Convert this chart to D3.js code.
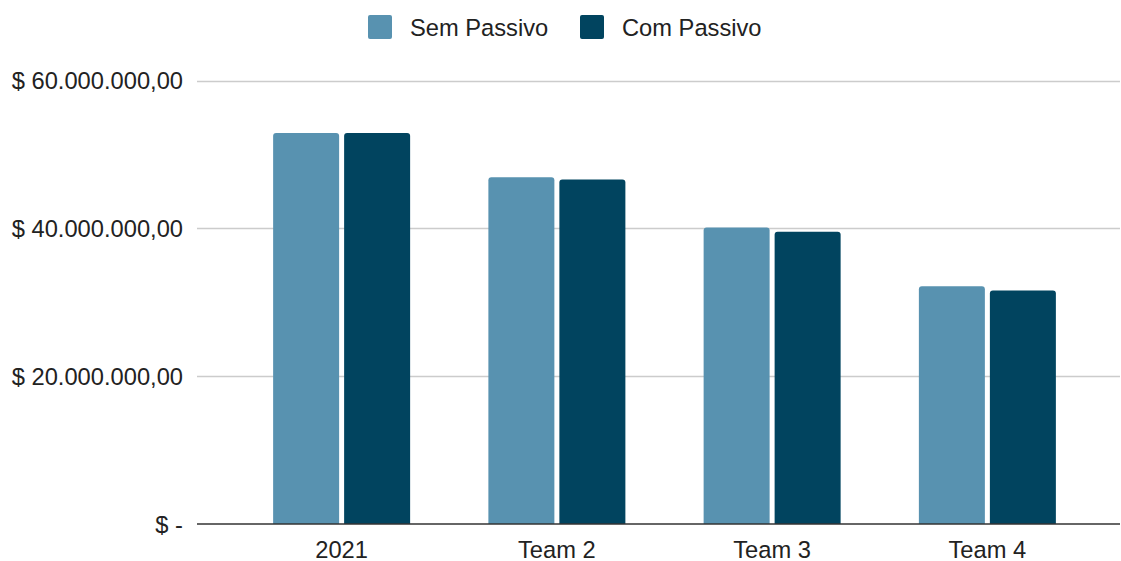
<!DOCTYPE html>
<html>
<head>
<meta charset="utf-8">
<script src="https://cdn.jsdelivr.net/npm/d3@7"></script>
<style>
  html, body { margin: 0; padding: 0; background: #fff; }
  svg { display: block; font-family: "Liberation Sans", Arial, sans-serif; }
</style>
</head>
<body>
<svg id="chart" width="1121" height="561"></svg>
<script>
const categories = ["2021", "Team 2", "Team 3", "Team 4"];
const seriesNames = ["Sem Passivo", "Com Passivo"];
const semPassivo = [52900000, 46900000, 40100000, 32150000];
const comPassivo = [52900000, 46600000, 39550000, 31600000];
const yTickValues = [0, 20000000, 40000000, 60000000];
const yTickLabels = ["$ -", "$ 20.000.000,00", "$ 40.000.000,00", "$ 60.000.000,00"];
const colors = ["#5892b0", "#01445f"];

const svg = d3.select("#chart");
const plotLeft = 197, plotRight = 1120;
const FS = 23.7;

const y = d3.scaleLinear().domain([0, 60000000]).range([524, 80.5]);
const x0 = d3.scaleBand().domain(categories).range([234, 1095]).padding(0);
const x1 = d3.scaleBand().domain(seriesNames).range([-68.5, 68.5]).paddingInner(0.0704).paddingOuter(0);

// gridlines
svg.append("g").selectAll("line")
  .data(yTickValues.filter(v => v > 0))
  .join("line")
  .attr("x1", plotLeft).attr("x2", plotRight)
  .attr("y1", d => Math.round(y(d)) + 0.5).attr("y2", d => Math.round(y(d)) + 0.5)
  .attr("stroke", "#cccccc").attr("stroke-width", 1.5);

// y labels
svg.append("g").selectAll("text")
  .data(yTickValues)
  .join("text")
  .attr("x", 183).attr("y", d => y(d) + 8.5)
  .attr("text-anchor", "end")
  .attr("font-size", FS)
  .attr("fill", "#222")
  .text((d, i) => yTickLabels[i]);

// bars
const data = categories.map((c, i) => ({ cat: c, vals: [semPassivo[i], comPassivo[i]] }));
const r = 3;
function barPath(x, y0, w, yTop) {
  const h = y0 - yTop;
  const rr = Math.min(r, h / 2, w / 2);
  return `M${x},${y0}V${yTop + rr}Q${x},${yTop} ${x + rr},${yTop}H${x + w - rr}Q${x + w},${yTop} ${x + w},${yTop + rr}V${y0}Z`;
}
const groups = svg.append("g").selectAll("g")
  .data(data).join("g")
  .attr("transform", d => `translate(${x0(d.cat) + x0.bandwidth() / 2},0)`);
groups.selectAll("path")
  .data(d => d.vals.map((v, j) => ({ s: seriesNames[j], v, j })))
  .join("path")
  .attr("d", d => barPath(x1(d.s), y(0), x1.bandwidth(), y(d.v)))
  .attr("fill", d => colors[d.j]);

// x axis line
svg.append("line")
  .attr("x1", plotLeft).attr("x2", plotRight)
  .attr("y1", 524).attr("y2", 524)
  .attr("stroke", "#333").attr("stroke-width", 1.5);

// x labels
svg.append("g").selectAll("text")
  .data(categories).join("text")
  .attr("x", d => x0(d) + x0.bandwidth() / 2)
  .attr("y", 558)
  .attr("text-anchor", "middle")
  .attr("font-size", FS).attr("fill", "#222")
  .text(d => d);

// legend
const legendItems = [
  { name: seriesNames[0], color: colors[0], x: 368, tx: 410 },
  { name: seriesNames[1], color: colors[1], x: 580, tx: 622 }
];
const lg = svg.append("g");
lg.selectAll("rect").data(legendItems).join("rect")
  .attr("x", d => d.x).attr("y", 15).attr("width", 24).attr("height", 24)
  .attr("rx", 2).attr("fill", d => d.color);
lg.selectAll("text").data(legendItems).join("text")
  .attr("x", d => d.tx).attr("y", 35.5)
  .attr("font-size", FS).attr("fill", "#222")
  .text(d => d.name);
</script>
</body>
</html>
